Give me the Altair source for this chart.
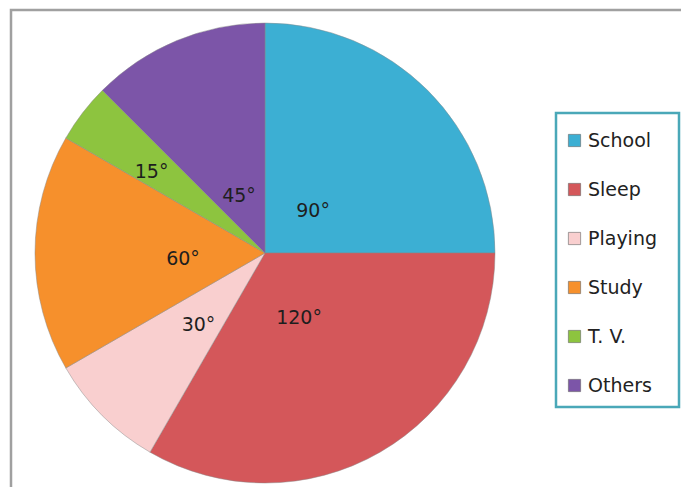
import altair as alt
import pandas as pd
import math

categories = ["School", "Sleep", "Playing", "Study", "T. V.", "Others"]
degrees = [90, 120, 30, 60, 15, 45]
labels = ["90°", "120°", "30°", "60°", "15°", "45°"]
colors = ["#3cafd3", "#d4575a", "#f9cfcf", "#f6902c", "#8dc43f", "#7c55a8"]

df = pd.DataFrame({"activity": categories, "deg": degrees, "label": labels,
                   "order": list(range(len(categories)))})

W, H = 673, 479
CX, CY, R = 257, 245, 230

color_scale = alt.Scale(domain=categories, range=colors)

pie = alt.Chart(df).mark_arc(outerRadius=R, stroke="#8a8a8a", strokeWidth=0.8, strokeOpacity=0.6).encode(
    theta=alt.Theta("deg:Q", stack=True),
    order=alt.Order("order:Q", sort="ascending"),
    x=alt.value(CX), y=alt.value(CY),
    color=alt.Color("activity:N", scale=color_scale, sort=categories,
                    legend=alt.Legend(title=None, orient="none", legendX=557, legendY=123,
                                      symbolType="square", symbolSize=150,
                                      symbolStrokeColor="#666666", symbolStrokeWidth=0.6,
                                      labelFont="DejaVu Sans", labelFontSize=19,
                                      labelColor="#222222", rowPadding=29, padding=0,
                                      labelOffset=4)),
)

text = alt.Chart(df).transform_window(
    cum="sum(deg)", sort=[alt.SortField("order", order="ascending")]
).transform_calculate(
    mid="datum.cum - datum.deg / 2",
    lr="datum.deg < 20 ? 143 : (datum.deg == 30 ? 94 : (datum.deg == 60 ? 82 : 68))",
).mark_text(font="DejaVu Sans", fontSize=19, color="#1e1e1e", dy=6).encode(
    theta=alt.Theta("mid:Q", stack=None, scale=alt.Scale(domain=[0, 360], range=[0, 2 * math.pi])),
    x=alt.value(CX), y=alt.value(CY),
    radius=alt.Radius("lr:Q", scale=None),
    text="label:N",
)

frame = alt.Chart(pd.DataFrame({"a": [0]})).mark_rect(
    fill=None, stroke="#a0a0a0", strokeWidth=2.5
).encode(x=alt.value(3), x2=alt.value(W + 40), y=alt.value(2), y2=alt.value(H + 40))

legend_box = alt.Chart(pd.DataFrame({"a": [0]})).mark_rect(
    fill="#ffffff", stroke="#4aa8b8", strokeWidth=2.5
).encode(x=alt.value(548), x2=alt.value(671), y=alt.value(105), y2=alt.value(399))

chart = alt.layer(frame, legend_box, pie, text).properties(
    width=W, height=H, padding=0, autosize=alt.AutoSizeParams(type="none")
).configure_view(stroke=None)

chart.save("out.html", embed_options={"renderer": "svg", "actions": False})
